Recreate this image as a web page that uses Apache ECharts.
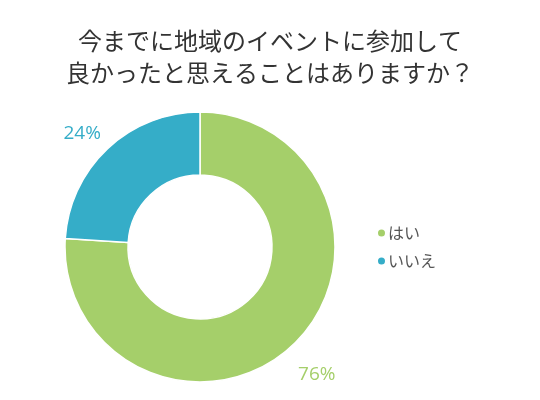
<!DOCTYPE html>
<html>
<head>
<meta charset="utf-8">
<script src="https://cdn.jsdelivr.net/npm/echarts@6/dist/echarts.min.js"></script>
<style>
html, body { margin: 0; padding: 0; background: #fff; }
#chart { width: 540px; height: 400px; }
</style>
</head>
<body>
<div id="chart"></div>
<script>
var categories = ['はい', 'いいえ'];
var values = [76, 24];
var colors = ['#a5cf6a', '#35adc8'];
var titleText = '今までに地域のイベントに参加して\n良かったと思えることはありますか？';

var chart = echarts.init(document.getElementById('chart'));

var pieData = categories.map(function (name, i) {
    return {
        name: name,
        value: values[i],
        itemStyle: { color: colors[i] },
        label: { color: colors[i] }
    };
});

// nudge the outside labels to where the original draws them
var labelShift = [[-13, 15], [12, 0]];

var option = {
    title: {
        text: titleText,
        left: 'center',
        top: 20,
        textStyle: {
            fontFamily: 'Noto Sans CJK JP',
            fontSize: 24,
            fontWeight: 'normal',
            color: '#333',
            lineHeight: 32
        }
    },
    legend: {
        orient: 'vertical',
        left: 371,
        top: 220,
        icon: 'circle',
        itemWidth: 9,
        itemHeight: 9,
        itemGap: 12,
        textStyle: {
            fontFamily: 'Noto Sans CJK JP',
            fontSize: 16,
            color: '#555',
            padding: [0, 0, 0, -3]
        },
        data: categories
    },
    series: [{
        type: 'pie',
        center: [200, 247],
        radius: [72, 135],
        startAngle: 90,
        clockwise: true,
        itemStyle: { borderColor: '#fff', borderWidth: 1.5 },
        label: {
            show: true,
            position: 'outside',
            formatter: '{c}%',
            fontFamily: 'Open Sans',
            fontSize: 19
        },
        labelLine: { show: false, length: 20, length2: 0 },
        labelLayout: function (params) {
            var s = labelShift[params.dataIndex];
            return { dx: s[0], dy: s[1] };
        },
        emphasis: { scale: false },
        data: pieData
    }]
};
chart.setOption(option);
</script>
</body>
</html>
